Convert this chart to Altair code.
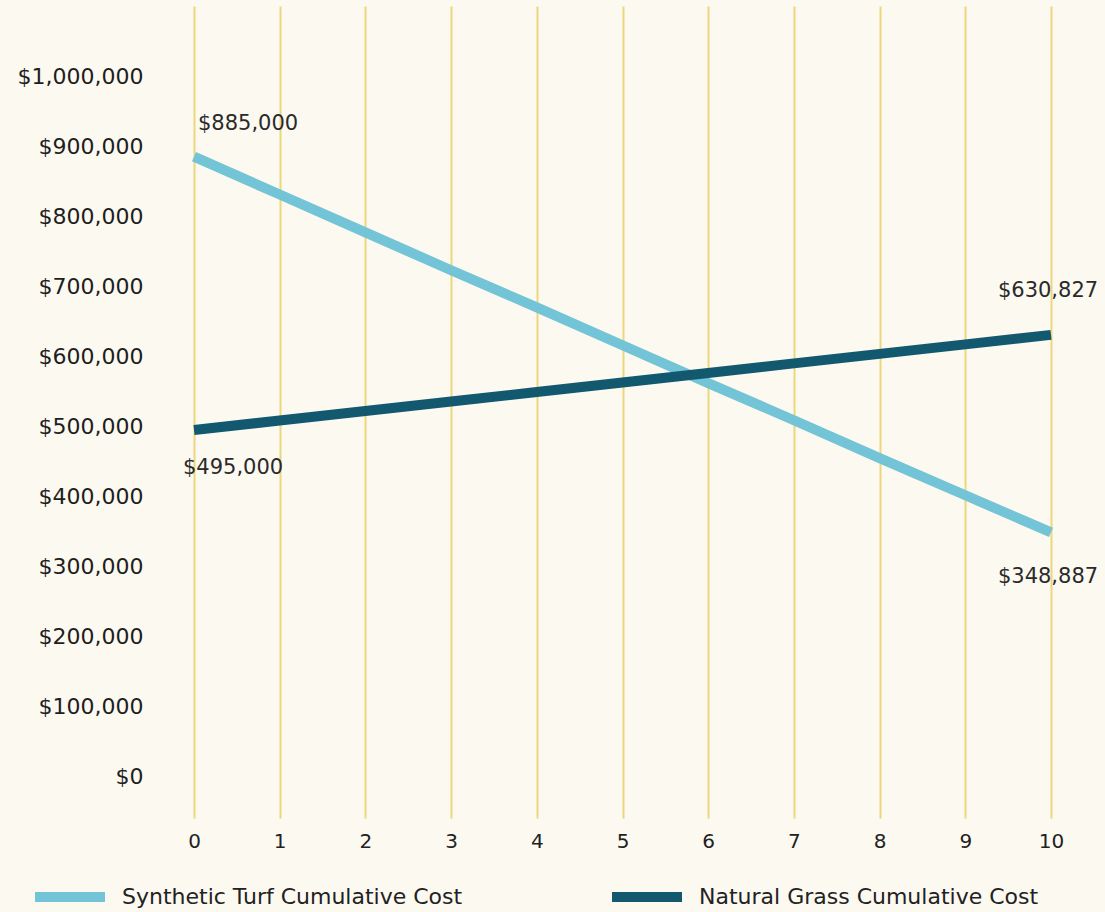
import altair as alt
import pandas as pd

years = [0, 1, 2, 3, 4, 5, 6, 7, 8, 9, 10]
synthetic = [885000, 831000, 777000, 723000, 670000, 616000, 562000, 509000, 455000, 402000, 348887]
natural = [495000, 508600, 522200, 535700, 549300, 562900, 576500, 590100, 603700, 617200, 630827]
series_names = ["Synthetic Turf Cumulative Cost", "Natural Grass Cumulative Cost"]
series_colors = ["#72c4d6", "#12586e"]
y_ticks = [0, 100000, 200000, 300000, 400000, 500000, 600000, 700000, 800000, 900000, 1000000]

FONT = "DejaVu Sans"
BG = "#fcf9f1"

rows = []
for name, vals in zip(series_names, [synthetic, natural]):
    for yr, v in zip(years, vals):
        rows.append({"year": yr, "value": v, "series": name})
df = pd.DataFrame(rows)

labels = pd.DataFrame([
    {"key": "s0", "year": years[0], "value": synthetic[0]},
    {"key": "n0", "year": years[0], "value": natural[0]},
    {"key": "s1", "year": years[-1], "value": synthetic[-1]},
    {"key": "n1", "year": years[-1], "value": natural[-1]},
])

xs = alt.X("year:Q", scale=alt.Scale(domain=[0, 10], nice=False),
           axis=alt.Axis(values=years, format="d", title=None, grid=True, gridColor="#ecd77c",
                         gridWidth=2, ticks=False, domain=False, labelPadding=13,
                         labelFlush=False,
                         labelFont=FONT, labelFontSize=20, labelColor="#222222"))
ys = alt.Y("value:Q", scale=alt.Scale(domain=[-58500, 1100000], nice=False, zero=False),
           axis=alt.Axis(values=y_ticks, format="$,.0f", title=None, grid=False,
                         ticks=False, domain=False, labelPadding=51,
                         labelFont=FONT, labelFontSize=22, labelColor="#1e1e1e"))

lines = alt.Chart(df).mark_line(strokeWidth=10, strokeCap="butt").encode(
    x=xs, y=ys,
    color=alt.Color("series:N",
                    scale=alt.Scale(domain=series_names, range=series_colors),
                    sort=series_names,
                    legend=alt.Legend(title=None, orient="none", direction="horizontal",
                                      legendX=-164, legendY=851,
                                      symbolType="stroke", symbolSize=4900,
                                      symbolStrokeWidth=10, labelOffset=12,
                                      labelFont=FONT, labelFontSize=22,
                                      labelColor="#222222", columnPadding=129,
                                      labelLimit=600)),
    detail="series:N",
)

def lab(key, align, dx, dy):
    return alt.Chart(labels).transform_filter(alt.datum.key == key).mark_text(
        align=align, baseline="middle", dx=dx, dy=dy, font=FONT, fontSize=21,
        color="#2a2a2a").encode(
        x="year:Q", y="value:Q", text=alt.Text("value:Q", format="$,.0f"))

chart = alt.layer(
    lines,
    lab("s0", "left", 4, -33),
    lab("n0", "left", -11, 38),
    lab("n1", "center", -3, -44),
    lab("s1", "center", -3, 45),
).properties(
    width=857, height=812,
    autosize=alt.AutoSizeParams(type="none"),
    padding={"left": 194, "top": 6, "right": 54, "bottom": 94},
    background=BG,
).configure_view(stroke=None)

chart.save("out.html", embed_options={"renderer": "svg", "actions": False})
